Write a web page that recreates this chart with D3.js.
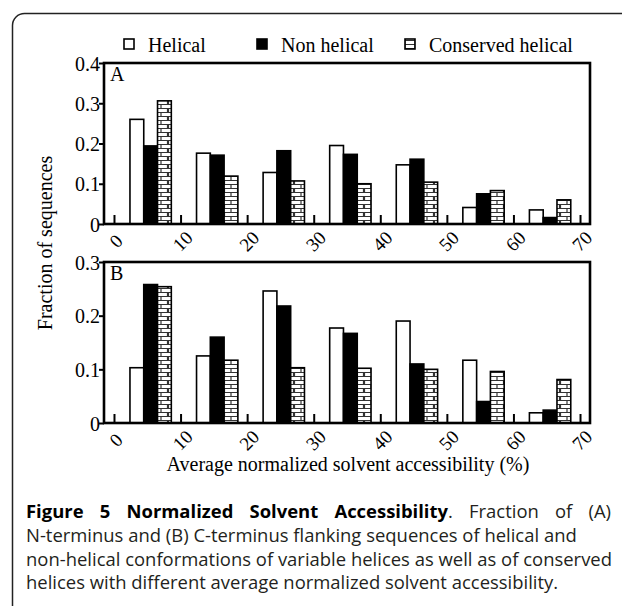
<!DOCTYPE html>
<html><head><meta charset="utf-8">
<script src="https://cdn.jsdelivr.net/npm/d3@7"></script>
<style>body{margin:0;background:#fff}svg{display:block}</style>
</head><body>
<svg id="c" width="622" height="606"></svg>
<script>
const categories = [0, 10, 20, 30, 40, 50, 60];
const xTicks = [0, 10, 20, 30, 40, 50, 60, 70];
const seriesNames = ["Helical", "Non helical", "Conserved helical"];
const helicalA = [0.260, 0.176, 0.128, 0.195, 0.147, 0.041, 0.035];
const nonHelicalA = [0.194, 0.171, 0.182, 0.173, 0.161, 0.075, 0.016];
const conservedA = [0.306, 0.119, 0.107, 0.100, 0.104, 0.083, 0.060];
const helicalB = [0.103, 0.125, 0.246, 0.177, 0.190, 0.117, 0.019];
const nonHelicalB = [0.258, 0.160, 0.218, 0.167, 0.110, 0.040, 0.024];
const conservedB = [0.254, 0.117, 0.103, 0.102, 0.100, 0.096, 0.081];
const yTicksA = [0, 0.1, 0.2, 0.3, 0.4];
const yTicksB = [0, 0.1, 0.2, 0.3];
const captionBold = "Figure 5 Normalized Solvent Accessibility";
const captionLines = [
  ". Fraction of (A)",
  "N-terminus and (B) C-terminus flanking sequences of helical and",
  "non-helical conformations of variable helices as well as of conserved",
  "helices with different average normalized solvent accessibility."
];

const svg = d3.select("#c");
const serif = "'Liberation Serif','Times New Roman',serif";
const sans = "'Open Sans','Noto Sans',sans-serif";

const defs = svg.append("defs");
const pat = defs.append("pattern").attr("id", "brick").attr("patternUnits", "userSpaceOnUse")
  .attr("width", 14).attr("height", 8);
pat.append("rect").attr("width", 14).attr("height", 8).attr("fill", "#fff");
pat.append("path").attr("d", "M0,0.5H14M0,4.5H14M7,0.5V4.5M0.5,4.5V8.5M13.5,4.5V8.5")
  .attr("stroke", "#333").attr("stroke-width", 1.2).attr("fill", "none");
const smallPat = defs.append("pattern").attr("id", "brickS").attr("patternUnits", "userSpaceOnUse")
  .attr("width", 10).attr("height", 4);
smallPat.append("rect").attr("width", 10).attr("height", 4).attr("fill", "#fff");
smallPat.append("path").attr("d", "M0,0.5H10M5,0V4").attr("stroke", "#333").attr("stroke-width", 1);

svg.append("rect").attr("x", 12.5).attr("y", 13.5).attr("width", 640).attr("height", 640)
  .attr("rx", 12).attr("fill", "none").attr("stroke", "#222").attr("stroke-width", 1.5);

const x = d3.scaleLinear().domain([-1.5, 71.5]).range([104, 590]);
const fills = ["#fff", "#000", "url(#brick)"];
const barOff = 2.4, barW = 2.07;

function panel(yTop, yBot, maxV, ticks, data, label) {
  const y = d3.scaleLinear().domain([0, maxV]).range([yBot, yTop]);
  const g = svg.append("g");
  data.forEach((vals, k) => {
    g.selectAll(null).data(categories.map((c, i) => ({c, v: vals[i]}))).enter().append("rect")
      .attr("x", d => x(d.c + barOff + k * barW))
      .attr("width", x(barW) - x(0))
      .attr("y", d => y(d.v))
      .attr("height", d => yBot - y(d.v))
      .attr("fill", fills[k]).attr("stroke", "#000").attr("stroke-width", 1.6);
  });
  const ya = g.append("g").attr("transform", `translate(${x.range()[0]},0)`)
    .call(d3.axisLeft(y).tickValues(ticks).tickSize(5).tickFormat(d => d === 0 ? "0" : d3.format(".1f")(d)));
  ya.select(".domain").remove();
  ya.selectAll("line").attr("stroke", "#000").attr("stroke-width", 2);
  ya.selectAll("text").attr("font-family", serif).attr("font-size", 20).attr("fill", "#000").attr("x", -4).attr("dy", "0.35em");
  const xa = g.append("g").attr("transform", `translate(0,${yBot})`)
    .call(d3.axisBottom(x).tickValues(xTicks).tickSize(-9).tickFormat(""));
  xa.select(".domain").remove();
  xa.selectAll("line").attr("stroke", "#000").attr("stroke-width", 2);
  g.selectAll(null).data(xTicks).enter().append("text")
    .attr("transform", d => `translate(${x(d) + 2},${yBot + 17}) rotate(-45)`)
    .attr("text-anchor", "middle").attr("dy", "0.35em")
    .attr("font-family", serif).attr("font-size", 19).text(d => d);
  g.append("rect").attr("x", x.range()[0]).attr("y", yTop).attr("width", x.range()[1] - x.range()[0])
    .attr("height", yBot - yTop).attr("fill", "none").attr("stroke", "#000").attr("stroke-width", 2.6);
  g.append("text").attr("x", 110).attr("y", yTop + 18).attr("font-family", serif).attr("font-size", 20).text(label);
}

panel(63, 224, 0.4, yTicksA, [helicalA, nonHelicalA, conservedA], "A");
panel(262, 423, 0.3, yTicksB, [helicalB, nonHelicalB, conservedB], "B");

const legX = [124, 257, 405];
const legFill = ["#fff", "#000", "url(#brickS)"];
seriesNames.forEach((n, i) => {
  svg.append("rect").attr("x", legX[i]).attr("y", 39).attr("width", 10).attr("height", 10)
    .attr("fill", legFill[i]).attr("stroke", "#000").attr("stroke-width", 1.6);
  svg.append("text").attr("x", legX[i] + 24).attr("y", 52).attr("font-family", serif)
    .attr("font-size", 20).text(n);
});

svg.append("text").attr("transform", "translate(52,243) rotate(-90)").attr("text-anchor", "middle")
  .attr("font-family", serif).attr("font-size", 20).text("Fraction of sequences");
svg.append("text").attr("x", 348).attr("y", 471).attr("text-anchor", "middle")
  .attr("font-family", serif).attr("font-size", 20).text("Average normalized solvent accessibility (%)");

// caption: size the font so the longest full line fits, justify line 1
const cap = svg.append("g").attr("font-family", sans).attr("font-size", 17).attr("fill", "#231f20");
const probe = cap.append("text").text(captionLines[2]);
const fs = Math.min(19, 17 * 586 / probe.node().getComputedTextLength());
probe.remove();
cap.attr("font-size", fs);
const t1 = cap.append("text").attr("x", 26).attr("y", 518);
t1.append("tspan").attr("font-weight", "bold").attr("fill", "#000").text(captionBold);
t1.append("tspan").text(captionLines[0]);
const w = t1.node().getComputedTextLength();
const nSp = (captionBold + captionLines[0]).split(" ").length - 1;
if (w < 585) t1.attr("word-spacing", (585 - w) / nSp);
else t1.attr("textLength", 585).attr("lengthAdjust", "spacingAndGlyphs");
captionLines.slice(1).forEach((l, i) => {
  const t = cap.append("text").attr("x", 26).attr("y", 542 + i * 23.5).text(l);
  if (i === 1) t.attr("textLength", 586).attr("lengthAdjust", "spacing");
});
</script>
</body></html>
